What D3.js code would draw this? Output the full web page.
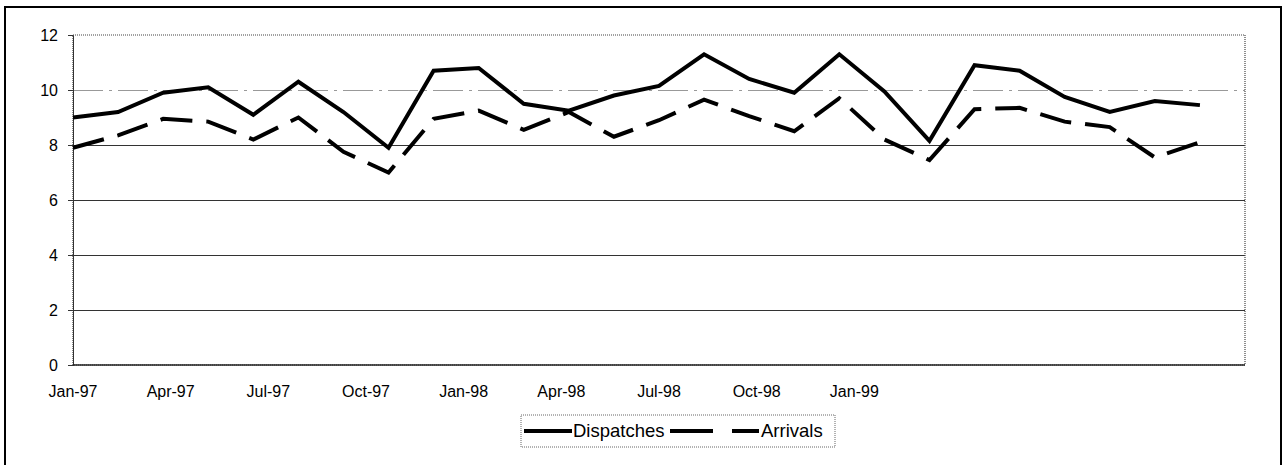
<!DOCTYPE html>
<html>
<head>
<meta charset="utf-8">
<script src="https://cdn.jsdelivr.net/npm/d3@7"></script>
<style>
  body { margin: 0; background: #fff; }
  text { font-family: "Liberation Sans", Arial, sans-serif; fill: #000; }
</style>
</head>
<body>
<div id="chart"></div>
<script>
// Values (26 periods from Jan-97)
let dispatches = [9.0, 9.2, 9.9, 10.1, 9.1, 10.3, 9.2, 7.9, 10.7, 10.8, 9.5, 9.25, 9.8,
                  10.15, 11.3, 10.4, 9.9, 11.3, 9.95, 8.15, 10.9, 10.7, 9.75, 9.2, 9.6, 9.45];
let arrivals = [7.9, 8.35, 8.95, 8.85, 8.2, 9.0, 7.75, 7.0, 8.95, 9.25, 8.55, 9.2, 8.3,
                8.9, 9.65, 9.05, 8.5, 9.7, 8.2, 7.45, 9.3, 9.35, 8.85, 8.65, 7.55, 8.1];
let xLabels = ["Jan-97", "Apr-97", "Jul-97", "Oct-97", "Jan-98", "Apr-98", "Jul-98", "Oct-98", "Jan-99"];
let yTicks = [0, 2, 4, 6, 8, 10, 12];
let seriesNames = ["Dispatches", "Arrivals"];

const W = 1283, H = 465;
const plot = { left: 73, right: 1245, top: 35, bottom: 365 };

var svg = d3.select('#chart').append('svg')
            .attr('width', W)
            .attr('height', H);

// Outer frame
svg.append('rect')
   .attr('x', 5).attr('y', 7)
   .attr('width', 1276).attr('height', 470)
   .attr('fill', 'none')
   .attr('stroke', '#000')
   .attr('stroke-width', 2);

// Scales: data points are spaced on their own index, the date labels on quarters
var x = d3.scaleLinear().domain([0, 26]).range([plot.left, plot.right]);
var xq = d3.scaleLinear().domain([0, 12]).range([plot.left, plot.right]);
var y = d3.scaleLinear().domain([0, 12]).range([plot.bottom, plot.top]);

// Gridlines
svg.append('g')
   .attr('shape-rendering', 'crispEdges')
   .selectAll('line')
   .data(yTicks.filter(function(d) { return d > 0 && d < 12; }))
   .enter()
   .append('line')
   .attr('x1', plot.left).attr('x2', plot.right)
   .attr('y1', function(d) { return y(d); })
   .attr('y2', function(d) { return y(d); })
   .attr('stroke', function(d) { return d == 10 ? '#999' : '#333'; })
   .attr('stroke-width', 1)
   .attr('stroke-dasharray', function(d) { return d == 10 ? '30,6,3,6' : null; });

// Plot area border (dotted)
svg.append('rect')
   .attr('x', plot.left).attr('y', plot.top)
   .attr('width', plot.right - plot.left)
   .attr('height', plot.bottom - plot.top)
   .attr('fill', 'none')
   .attr('stroke', '#444')
   .attr('stroke-width', 1.2)
   .attr('stroke-dasharray', '1,1');

// Y axis
var yAxis = svg.append('g')
   .attr('transform', `translate(${plot.left},0)`)
   .call(d3.axisLeft(y).tickValues(yTicks).tickSize(5).tickPadding(10));
yAxis.select('.domain').attr('stroke', '#333');
yAxis.selectAll('line').attr('stroke', '#333');
yAxis.selectAll('text').attr('font-size', '16px');

// X axis baseline
svg.append('line')
   .attr('x1', plot.left).attr('x2', plot.right)
   .attr('y1', y(0)).attr('y2', y(0))
   .attr('stroke', '#222')
   .attr('stroke-width', 1.5);

// X labels
svg.append('g')
   .selectAll('text')
   .data(xLabels)
   .enter()
   .append('text')
   .attr('x', function(d, i) { return xq(i); })
   .attr('y', 397)
   .attr('text-anchor', 'middle')
   .attr('font-size', '16px')
   .text(function(d) { return d; });

// Lines
var line = d3.line()
   .x(function(d, i) { return x(i); })
   .y(function(d) { return y(d); });

svg.append('path')
   .datum(dispatches)
   .attr('d', line)
   .attr('fill', 'none')
   .attr('stroke', '#000')
   .attr('stroke-width', 4)
   .attr('stroke-linejoin', 'miter');

svg.append('path')
   .datum(arrivals)
   .attr('d', line)
   .attr('fill', 'none')
   .attr('stroke', '#000')
   .attr('stroke-width', 4)
   .attr('stroke-dasharray', '32,14');

// Legend
var legend = svg.append('g');
legend.append('rect')
   .attr('x', 521).attr('y', 415)
   .attr('width', 314).attr('height', 32)
   .attr('fill', '#fff')
   .attr('stroke', '#666')
   .attr('stroke-dasharray', '1,1');

legend.append('line')
   .attr('x1', 524).attr('x2', 572)
   .attr('y1', 431).attr('y2', 431)
   .attr('stroke', '#000').attr('stroke-width', 4);
legend.append('text')
   .attr('x', 573).attr('y', 437)
   .attr('font-size', '18.5px')
   .text(seriesNames[0]);

legend.append('line')
   .attr('x1', 670).attr('x2', 759)
   .attr('y1', 431).attr('y2', 431)
   .attr('stroke', '#000').attr('stroke-width', 4)
   .attr('stroke-dasharray', '43,19');
legend.append('text')
   .attr('x', 761).attr('y', 437)
   .attr('font-size', '18.5px')
   .text(seriesNames[1]);
</script>
</body>
</html>
